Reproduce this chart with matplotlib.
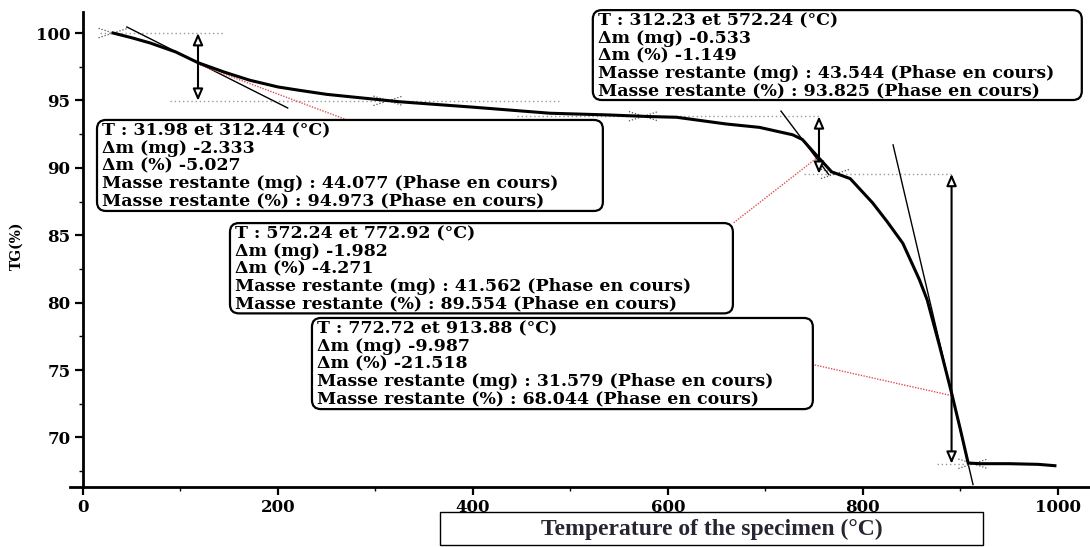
import matplotlib
matplotlib.use("Agg")
import matplotlib.pyplot as plt
from matplotlib.patches import FancyBboxPatch, Rectangle
from matplotlib.transforms import IdentityTransform, offset_copy
from matplotlib.ticker import MultipleLocator

# TG curve (temperature in °C, mass in %)
temp = [31, 50, 69, 95, 118, 145, 171, 200, 222, 250, 284, 325, 400, 479, 540, 582,
        609, 660, 694, 728, 738, 754, 768, 787, 810, 825, 841, 858, 866, 879, 891,
        900, 908, 920, 950, 980, 997]
tg = [100.0, 99.65, 99.26, 98.6, 97.8, 97.1, 96.5, 96.0, 95.75, 95.45, 95.2, 94.9,
      94.5, 94.05, 93.92, 93.8, 93.75, 93.25, 93.0, 92.45, 92.1, 90.8, 89.7, 89.2,
      87.4, 86.0, 84.4, 81.7, 80.2, 76.7, 73.3, 70.6, 68.1, 68.05, 68.05, 68.0, 67.9]

# step arrows: (temperature, upper level, lower level)
step_arrows = [(118, 100.0, 94.973), (755, 93.825, 89.554), (891, 89.554, 68.044)]
# dotted reference levels: (T start, T end, level)
level_lines = [(17, 146, 100.0), (89, 489, 94.973), (445, 756, 93.825),
               (740, 891, 89.554), (876, 927, 68.044)]
# tangents drawn on the curve
tangents = [((45, 100.45), (210, 94.44)), ((716, 94.21), (765, 89.5)),
            ((831, 91.7), (913, 66.5))]
# red dotted leaders from the curve to each box
red_links = [((120, 97.63), (271, 93.55)), ((754, 90.8), (667, 85.9)),
             ((891, 73.1), (749, 75.4))]
# small dotted crosses at the step limits
cross_marks = [(31, 100.0), (313, 94.973), (575, 93.825), (772, 89.554), (913, 68.044)]

box_texts = [
    ["T : 31.98 et 312.44 (°C)", "Δm (mg) -2.333", "Δm (%) -5.027",
     "Masse restante (mg) : 44.077 (Phase en cours)",
     "Masse restante (%) : 94.973 (Phase en cours)"],
    ["T : 312.23 et 572.24 (°C)", "Δm (mg) -0.533", "Δm (%) -1.149",
     "Masse restante (mg) : 43.544 (Phase en cours)",
     "Masse restante (%) : 93.825 (Phase en cours)"],
    ["T : 572.24 et 772.92 (°C)", "Δm (mg) -1.982", "Δm (%) -4.271",
     "Masse restante (mg) : 41.562 (Phase en cours)",
     "Masse restante (%) : 89.554 (Phase en cours)"],
    ["T : 772.72 et 913.88 (°C)", "Δm (mg) -9.987", "Δm (%) -21.518",
     "Masse restante (mg) : 31.579 (Phase en cours)",
     "Masse restante (%) : 68.044 (Phase en cours)"],
]
# box corners in data units: (left, top, right, bottom)
box_corners = [(14.4, 93.55, 533.3, 86.8), (523, 101.7, 1024.6, 95.03),
               (150.8, 85.9, 666.7, 79.2), (234.9, 78.86, 748.7, 72.1)]

plt.rcParams["font.family"] = "DejaVu Serif"
plt.rcParams["font.weight"] = "bold"

fig = plt.figure(figsize=(10.9, 5.47), dpi=100)
ax = fig.add_axes([70 / 1090, 60 / 547, 1020 / 1090, 475 / 547])
ax.set_xlim(-13.3, 1033)
ax.set_ylim(66.32, 101.56)

for side in ["top", "right"]:
    ax.spines[side].set_visible(False)
ax.spines["left"].set_position(("data", 0))
ax.spines["left"].set_linewidth(2)
ax.spines["bottom"].set_linewidth(2)

ax.xaxis.set_major_locator(MultipleLocator(200))
ax.xaxis.set_minor_locator(MultipleLocator(100))
ax.yaxis.set_major_locator(MultipleLocator(5))
ax.yaxis.set_minor_locator(MultipleLocator(2.5))
ax.tick_params(which="major", length=6, width=1.6, labelsize=12, pad=3)
ax.tick_params(which="minor", length=3, width=1)

# curve
ax.plot(temp, tg, color="black", lw=2.2, zorder=4)

for t0, t1, lvl in level_lines:
    ax.plot([t0, t1], [lvl, lvl], color="#9a9a9a", lw=1, ls=(0, (1, 2)), zorder=2)

for (t0, y0), (t1, y1) in tangents:
    ax.plot([t0, t1], [y0, y1], color="black", lw=1, zorder=3)

for (t0, y0), (t1, y1) in red_links:
    ax.plot([t0, t1], [y0, y1], color="#e05050", lw=1, ls=(0, (1, 1)), zorder=3)

for t, lvl in cross_marks:
    ax.plot([t - 15, t + 15], [lvl + 0.35, lvl - 0.35], color="#555555", lw=0.9,
            ls=(0, (1, 1.5)), zorder=3)
    ax.plot([t - 15, t + 15], [lvl - 0.35, lvl + 0.35], color="#555555", lw=0.9,
            ls=(0, (1, 1.5)), zorder=3)

for t, hi, lo in step_arrows:
    ax.annotate("", xy=(t, lo), xytext=(t, hi),
                arrowprops=dict(arrowstyle="<|-|>,head_length=0.7,head_width=0.3",
                                fc="white", ec="black", lw=1.5,
                                shrinkA=0, shrinkB=0), zorder=5)

# annotation boxes, drawn in pixels so the round corners stay round
for corners, lines in zip(box_corners, box_texts):
    left, top, right, bottom = corners
    (x0, y0), (x1, y1) = ax.transData.transform([(left, bottom), (right, top)])
    box = FancyBboxPatch((x0, y0), x1 - x0, y1 - y0,
                         boxstyle="round,pad=0,rounding_size=9",
                         transform=IdentityTransform(), fc="white", ec="black",
                         lw=1.6, zorder=6)
    ax.add_artist(box)
    box.set_clip_on(False)
    for i, line in enumerate(lines):
        tr = offset_copy(ax.transData, fig=fig, x=5, y=-(11 + 17.5 * i), units="dots")
        ax.text(left, top, line, transform=tr, ha="left", va="center",
                fontsize=12.5, fontweight="bold", zorder=7, clip_on=False)

fig.text(17 / 1090, 1 - 246 / 547, "TG(%)", rotation=90, ha="center", va="center",
         fontsize=10, fontweight="bold")

# x label inside its own frame
fig.add_artist(Rectangle((440 / 1090, 2 / 547), 543 / 1090, 33 / 547,
                         transform=fig.transFigure, fc="white", ec="black", lw=1))
fig.text(712 / 1090, 1 - 529 / 547, "Temperature of the specimen (°C)",
         ha="center", va="center", fontsize=17, fontweight="bold",
         family="Liberation Serif", color="#262633")

fig.savefig("out.png", dpi=100)
